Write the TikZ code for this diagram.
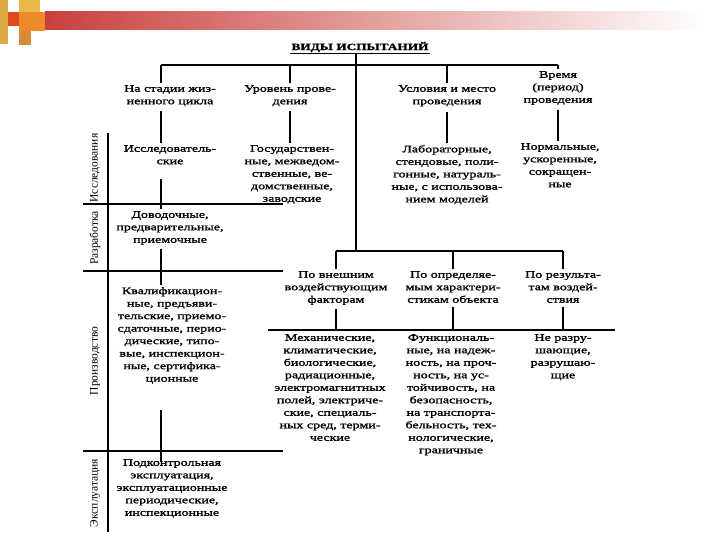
\documentclass[tikz,border=0pt]{standalone}
\usepackage{fontspec}
\setmainfont{Liberation Serif}[FakeStretch=1.4,FakeBold=1.6]
\newfontfamily\bandfont{Liberation Serif}
\usetikzlibrary{positioning, calc}
\definecolor{barred}{HTML}{C8403C}
\definecolor{tilegold}{HTML}{DDAA44}
\definecolor{tilered}{HTML}{E04A1E}
\definecolor{tileyellow}{HTML}{E8B84A}
\definecolor{tileorange}{HTML}{EE8A2A}
\definecolor{tiletan}{HTML}{D88A3A}
\tikzstyle{lbl}=[align=center, inner sep=0pt, anchor=north, font=\fontsize{10}{12.5}\selectfont]
\tikzstyle{band}=[rotate=90, inner sep=0pt, font=\bandfont\fontsize{11.5}{12}\selectfont]
\tikzstyle{link}=[line width=1.2pt]

\begin{document}
\begin{tikzpicture}[x=1pt, y=-1pt]
  \useasboundingbox (0,0) rectangle (720,540);
  % slide header
  \fill [tilegold] (0,0) rectangle (8,44);
  \fill [tilered] (8,12) rectangle (19,26);
  \fill [tileyellow] (19,0) rectangle (40,12);
  \fill [tileorange] (19,12) rectangle (45,31);
  \fill [tiletan] (19,31) rectangle (31,45);
  \shade [left color=barred, right color=white] (45,12) rectangle (705,30);

  \node [font=\bfseries\fontsize{9.5}{10}\selectfont, inner sep=1pt] (title) at (360,47) {ВИДЫ ИСПЫТАНИЙ};
  \draw [link] (title.south west) -- (title.south east);

  \coordinate (bus1) at (356,65);
  \coordinate (bus2) at (356,251);
  \coordinate (bus3) at (268,330);
  \coordinate (bus3-r) at (615,330);
  \coordinate (colA) at (161,0);

  % first level
  \node [lbl] (stage) at (170,85) {На стадии жиз-\\ненного цикла};
  \node [lbl] (level) at (290,85) {Уровень прове-\\дения};
  \node [lbl] (place) at (447,85) {Условия и место\\проведения};
  \node [lbl] (period) at (558,71) {Время\\(период)\\проведения};

  \draw [link] (title.south -| bus1) -- (bus1);
  \draw [link] (colA |- bus1) -- (period.north |- bus1);
  \draw [link] (colA |- bus1) -- ([yshift=2pt]stage.north -| colA);
  \foreach \n in {level,place,period}
    \draw [link] (\n.north |- bus1) -- ([yshift=2pt]\n.north);

  % second level
  \node [lbl] (research) at (170,145) {Исследователь-\\ские};
  \node [lbl] (state) at (292,145) {Государствен-\\ные, межведом-\\ственные, ве-\\домственные,\\заводские};
  \node [lbl] (lab) at (447,145) {Лабораторные,\\стендовые, поли-\\гонные, натураль-\\ные, с использова-\\нием моделей};
  \node [lbl] (normal) at (560,143) {Нормальные,\\ускоренные,\\сокращен-\\ные};

  \draw [link, shorten <=5pt, shorten >=2pt] (stage.south -| colA) -- (research.north -| colA);
  \draw [link, shorten <=5pt, shorten >=2pt] (level.south) -- (level.south |- state.north);
  \draw [link, shorten <=5pt, shorten >=2pt] (place.south) -- (place.south |- lab.north);
  \draw [link, shorten <=5pt, shorten >=2pt] (period.south) -- (period.south |- normal.north);

  % life cycle stages
  \draw [link] (108,133) -- (108,532);
  \foreach \y in {204,271,451}
    \draw [link] (83,\y) -- (283,\y);
  \node [band] (band-res) at (95,168) {Исследования};
  \node [band] (band-dev) at (95,238) {Разработка};
  \node [band] (band-prod) at (95,361) {Производство};
  \node [band] (band-oper) at (95,493) {Эксплуатация};

  \node [lbl] (develop) at (170,211) {Доводочные,\\предварительные,\\приемочные};
  \node [lbl] (prod) at (172,287) {Квалификацион-\\ные, предъяви-\\тельские, приемо-\\сдаточные, перио-\\дические, типо-\\вые, инспекцион-\\ные, сертифика-\\ционные};
  \node [lbl] (oper) at (172,459) {Подконтрольная\\эксплуатация,\\эксплуатационные\\периодические,\\инспекционные};

  \draw [link, shorten <=14pt, shorten >=2pt] (research.south -| colA) -- (develop.north -| colA);
  \draw [link, shorten <=4pt, shorten >=2pt] (develop.south -| colA) -- (prod.north -| colA);
  \draw [link, shorten <=26pt, shorten >=-3pt] (prod.south -| colA) -- (oper.north -| colA);

  % conditions branch
  \node [lbl] (external) at (336,271) {По внешним\\воздействующим\\факторам};
  \node [lbl] (measured) at (453,271) {По определяе-\\мым характери-\\стикам объекта};
  \node [lbl] (outcome) at (563,271) {По результа-\\там воздей-\\ствия};

  \draw [link] (bus1) -- (bus2);
  \draw [link] (external.north |- bus2) -- (outcome.north |- bus2);
  \foreach \n in {external,measured,outcome}{
    \draw [link] (\n.north |- bus2) -- ([yshift=2pt]\n.north);
    \draw [link, shorten <=4pt] (\n.south) -- (\n.south |- bus3);
  }
  \draw [link] (bus3) -- (bus3-r);

  \node [lbl] (mech) at (330,334) {Механические,\\климатические,\\биологические,\\радиационные,\\электромагнитных\\полей, электриче-\\ские, специаль-\\ных сред, терми-\\ческие};
  \node [lbl] (func) at (451,334) {Функциональ-\\ные, на надеж-\\ность, на проч-\\ность, на ус-\\тойчивость, на\\безопасность,\\на транспорта-\\бельность, тех-\\нологические,\\граничные};
  \node [lbl] (destr) at (563,334) {Не разру-\\шающие,\\разрушаю-\\щие};
\end{tikzpicture}
\end{document}
